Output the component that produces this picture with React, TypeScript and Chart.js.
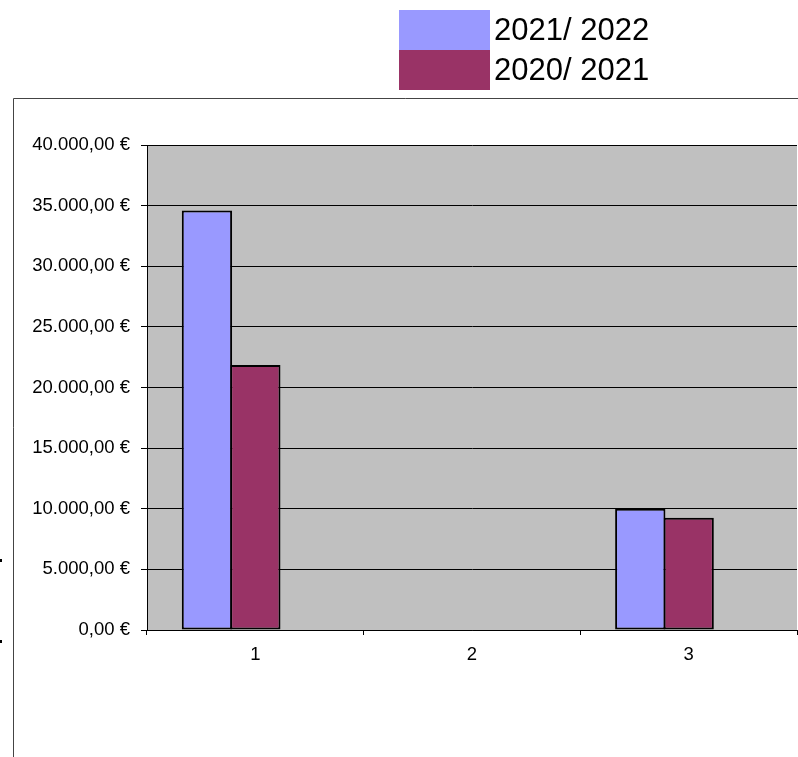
import React, { useEffect, useRef } from "react";
import { Chart, registerables } from "chart.js";

Chart.register(...registerables);

const categories = ["1", "2", "3"];
const series2122 = [34600, null, 10000];
const series2021 = [21850, null, 9260];
const seriesHidden = [null, null, null];
const seriesLabels = ["2021/ 2022", "2020/ 2021"];
const seriesColors = ["#9999FF", "#993366"];
const yMin = 0;
const yMax = 40000;
const yStep = 5000;

const FONT = "'Liberation Sans', Arial, sans-serif";

function formatEuro(v: number): string {
  const fixed = Math.abs(v).toFixed(2);
  const [intPart, dec] = fixed.split(".");
  const withDots = intPart.replace(/\B(?=(\d{3})+(?!\d))/g, ".");
  return `${v < 0 ? "-" : ""}${withDots},${dec} €`;
}

const decorPlugin = {
  id: "decor",
  beforeDraw(chart: any) {
    const { ctx, chartArea } = chart;
    ctx.save();
    ctx.fillStyle = "#C0C0C0";
    ctx.fillRect(chartArea.left, chartArea.top, chartArea.right - chartArea.left, chartArea.bottom - chartArea.top);
    // outer frame
    ctx.strokeStyle = "#444444";
    ctx.lineWidth = 1;
    ctx.beginPath();
    ctx.moveTo(13.5, chart.height);
    ctx.lineTo(13.5, 98.5);
    ctx.lineTo(chart.width, 98.5);
    ctx.stroke();
    // small marks at left edge
    ctx.fillStyle = "#000000";
    ctx.fillRect(0, 559, 2, 3);
    ctx.fillRect(0, 640, 2, 3);
    ctx.restore();
  },
  afterDraw(chart: any) {
    const { ctx } = chart;
    ctx.save();
    const ds = chart.data.datasets.slice(0, 2);
    ds.forEach((d: any, i: number) => {
      const y = 10 + i * 40;
      ctx.fillStyle = d.backgroundColor;
      ctx.fillRect(399, y, 91, 40);
      ctx.fillStyle = "#000000";
      ctx.font = `31px ${FONT}`;
      ctx.textBaseline = "middle";
      ctx.textAlign = "left";
      ctx.fillText(d.label, 494, y + 21);
    });
    ctx.restore();
  },
};

export default function App() {
  const ref = useRef<HTMLCanvasElement | null>(null);
  useEffect(() => {
    if (!ref.current) return;
    const chart = new Chart(ref.current, {
      type: "bar",
      data: {
        labels: categories,
        datasets: [
          {
            label: seriesLabels[0],
            data: series2122,
            backgroundColor: seriesColors[0],
            borderColor: "#000000",
            borderWidth: 2,
            borderSkipped: false,
          },
          {
            label: seriesLabels[1],
            data: series2021,
            backgroundColor: seriesColors[1],
            borderColor: "#000000",
            borderWidth: 2,
            borderSkipped: false,
          },
          {
            label: "",
            data: seriesHidden,
            backgroundColor: "transparent",
            borderWidth: 0,
          },
        ] as any,
      },
      options: {
        animation: false,
        responsive: false,
        maintainAspectRatio: false,
        layout: { padding: { top: 145, right: 1, left: 0, bottom: 0 } },
        datasets: { bar: { categoryPercentage: 0.67, barPercentage: 1.04 } },
        plugins: { legend: { display: false }, tooltip: { enabled: false } },
        scales: {
          x: {
            offset: true,
            grid: {
              offset: true,
              drawOnChartArea: false,
              drawTicks: true,
              tickLength: 5,
              color: "#000000",
            },
            border: { display: true, color: "#000000", width: 1 },
            ticks: {
              color: "#000000",
              font: { family: FONT, size: 18.5 },
              padding: 9,
              maxRotation: 0,
            },
            afterFit(scale: any) {
              scale.height = 127;
            },
          },
          y: {
            min: yMin,
            max: yMax,
            grid: {
              color: "#000000",
              lineWidth: 1,
              tickLength: 6,
              drawTicks: true,
            },
            border: { display: true, color: "#000000", width: 1 },
            ticks: {
              stepSize: yStep,
              color: "#000000",
              font: { family: FONT, size: 18.5 },
              padding: 11,
              callback: (v: any) => formatEuro(Number(v)),
            },
            afterFit(scale: any) {
              scale.width = 147;
            },
          },
        },
      } as any,
      plugins: [decorPlugin],
    });
    return () => chart.destroy();
  }, []);
  return (
    <div style={{ position: "absolute", left: 0, top: 0, width: 798, height: 757, background: "#ffffff" }}>
      <canvas ref={ref} width={798} height={757} style={{ width: 798, height: 757, display: "block" }} />
    </div>
  );
}
